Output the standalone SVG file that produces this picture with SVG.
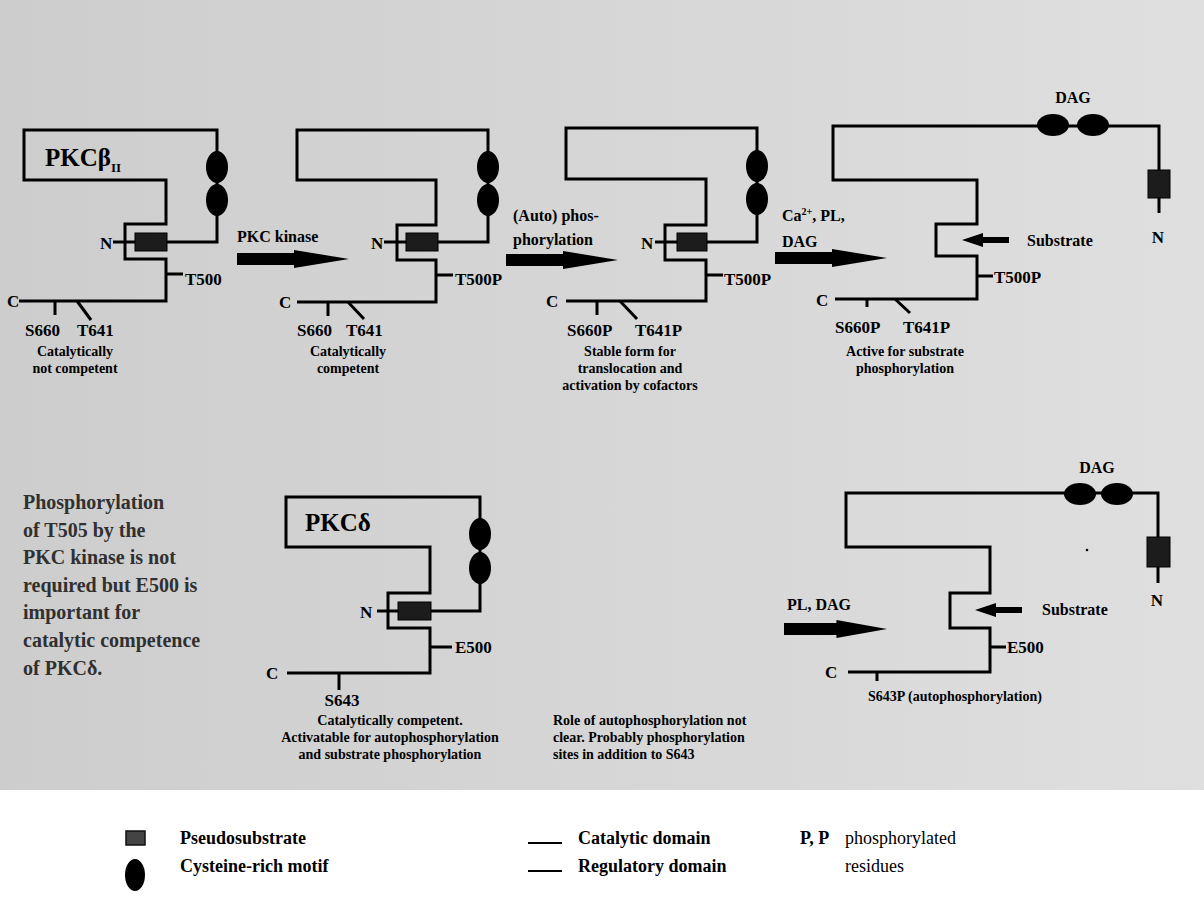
<svg xmlns="http://www.w3.org/2000/svg" width="1204" height="911" viewBox="0 0 1204 911">
<defs>
<style>
.ln{fill:none;stroke:#000;stroke-width:3;stroke-linejoin:miter;stroke-linecap:butt}
.thin{fill:none;stroke:#000;stroke-width:2}
.t{font-family:"Liberation Serif","Times New Roman",serif;font-weight:bold;fill:#000}
.lab{font-size:17px}
.desc{font-size:14px}
.arl{font-size:16px}
.ttl{font-size:25px}
.par{font-size:20px;fill:#303030}
.leg{font-size:18px}
.reg{font-weight:normal}
.ps{fill:#1c1c1c;stroke:#000;stroke-width:1}
.cys{fill:#000}
.arrow{fill:#000}
</style>
<linearGradient id="bg" x1="0" y1="0" x2="1" y2="0">
<stop offset="0" stop-color="#cdcdcd"/>
<stop offset="1" stop-color="#dfdfdf"/>
</linearGradient>
<path id="bigArrow" d="M0,-6 H57 V-9 L112,0 L57,9 V6 H0 Z"/>
<path id="subArrow" d="M0,0 L21,-7 V-3 H47 V3 H21 V7 Z"/>
</defs>
<rect x="0" y="0" width="1204" height="911" fill="#fff"/>
<rect x="0" y="0" width="1204" height="790" fill="url(#bg)"/>

<g id="connectors">
<use href="#bigArrow" class="arrow" x="237" y="259"/>
<use href="#bigArrow" class="arrow" x="506" y="260"/>
<use href="#bigArrow" class="arrow" x="775" y="258"/>
<use href="#bigArrow" class="arrow" x="784" y="629" transform="translate(784,629) scale(0.92,1) translate(-784,-629)"/>
<text class="t arl" x="237" y="242">PKC kinase</text>
<text class="t arl" x="513" y="221">(Auto) phos-</text>
<text class="t arl" x="513" y="245">phorylation</text>
<text class="t arl" x="782" y="221">Ca<tspan font-size="10" dy="-6">2+</tspan><tspan dy="6">, PL,</tspan></text>
<text class="t arl" x="782" y="247">DAG</text>
<text class="t arl" x="787" y="610">PL, DAG</text>
</g>

<g id="pkc-beta-inactive">
<path class="ln" d="M113,242 H135"/>
<rect class="ps" x="135" y="233" width="32" height="18"/>
<path class="ln" d="M167,242 H217 V130 H24 V180 H166 V224 H125 V259 H166 V301 H19"/>
<ellipse class="cys" cx="217" cy="167" rx="11" ry="16"/>
<ellipse class="cys" cx="217" cy="200" rx="11" ry="16"/>
<path class="ln" d="M166,274 H183 M55,301 V315 M77,301 L91,320"/>
<text class="t ttl" x="45" y="166">PKCβ<tspan font-size="13" dy="6">II</tspan></text>
<text class="t lab" x="100" y="249">N</text>
<text class="t lab" x="7" y="307">C</text>
<text class="t lab" x="185" y="285">T500</text>
<text class="t lab" x="25" y="336">S660</text>
<text class="t lab" x="77" y="336">T641</text>
<text class="t desc" x="75" y="356" text-anchor="middle">Catalytically</text>
<text class="t desc" x="75" y="373" text-anchor="middle">not competent</text>
</g>

<g id="pkc-beta-competent">
<path class="ln" d="M384,242 H406"/>
<rect class="ps" x="406" y="233" width="32" height="18"/>
<path class="ln" d="M438,242 H488 V130 H297 V180 H436 V225 H397 V260 H436 V302 H297"/>
<ellipse class="cys" cx="488" cy="167" rx="11" ry="16"/>
<ellipse class="cys" cx="488" cy="200" rx="11" ry="16"/>
<path class="ln" d="M436,275 H453 M328,302 V316 M348,302 L364,319"/>
<text class="t lab" x="371" y="249">N</text>
<text class="t lab" x="279" y="308">C</text>
<text class="t lab" x="455" y="285">T500P</text>
<text class="t lab" x="297" y="336">S660</text>
<text class="t lab" x="346" y="336">T641</text>
<text class="t desc" x="348" y="356" text-anchor="middle">Catalytically</text>
<text class="t desc" x="348" y="373" text-anchor="middle">competent</text>
</g>

<g id="pkc-beta-stable">
<path class="ln" d="M655,242 H677"/>
<rect class="ps" x="677" y="233" width="30" height="18"/>
<path class="ln" d="M707,242 H757 V128 H566 V179 H706 V225 H665 V260 H706 V301 H566"/>
<ellipse class="cys" cx="757" cy="166" rx="11" ry="16"/>
<ellipse class="cys" cx="757" cy="199" rx="11" ry="16"/>
<path class="ln" d="M706,275 H723 M597,301 V315 M620,301 L637,319"/>
<text class="t lab" x="641" y="249">N</text>
<text class="t lab" x="546" y="307">C</text>
<text class="t lab" x="724" y="285">T500P</text>
<text class="t lab" x="567" y="336">S660P</text>
<text class="t lab" x="635" y="336">T641P</text>
<text class="t desc" x="630" y="356" text-anchor="middle">Stable form for</text>
<text class="t desc" x="630" y="373" text-anchor="middle">translocation and</text>
<text class="t desc" x="630" y="390" text-anchor="middle">activation by cofactors</text>
</g>

<g id="pkc-beta-active">
<path class="ln" d="M1159,213 V126 H833 V180 H977 V224 H936 V256 H977 V299 H835"/>
<ellipse class="cys" cx="1053" cy="125" rx="16" ry="11"/>
<ellipse class="cys" cx="1093" cy="125" rx="16" ry="11"/>
<rect class="ps" x="1148" y="170" width="22" height="28"/>
<path class="ln" d="M977,276 H993 M867,299 V307 M895,299 L910,313"/>
<use href="#subArrow" class="arrow" x="962" y="240"/>
<text class="t arl" x="1073" y="103" text-anchor="middle">DAG</text>
<text class="t lab" x="1158" y="243" text-anchor="middle">N</text>
<text class="t lab" x="816" y="306">C</text>
<text class="t arl" x="1027" y="246">Substrate</text>
<text class="t lab" x="994" y="283">T500P</text>
<text class="t lab" x="835" y="333">S660P</text>
<text class="t lab" x="903" y="333">T641P</text>
<text class="t desc" x="905" y="356" text-anchor="middle">Active for substrate</text>
<text class="t desc" x="905" y="373" text-anchor="middle">phosphorylation</text>
</g>

<g id="note">
<text class="t par" x="23" y="509">Phosphorylation</text>
<text class="t par" x="23" y="537">of T505 by the</text>
<text class="t par" x="23" y="564">PKC kinase is not</text>
<text class="t par" x="23" y="592">required but E500 is</text>
<text class="t par" x="23" y="619">important for</text>
<text class="t par" x="23" y="647">catalytic competence</text>
<text class="t par" x="23" y="675">of PKCδ.</text>
</g>

<g id="pkc-delta">
<path class="ln" d="M377,611 H398"/>
<rect class="ps" x="398" y="602" width="33" height="18"/>
<path class="ln" d="M431,611 H480 V497 H286 V547 H430 V593 H388 V628 H430 V673 H287"/>
<ellipse class="cys" cx="480" cy="534" rx="11" ry="16"/>
<ellipse class="cys" cx="480" cy="568" rx="11" ry="16"/>
<path class="ln" d="M430,647 H452 M339,673 V690"/>
<text class="t ttl" x="305" y="531">PKCδ</text>
<text class="t lab" x="360" y="618">N</text>
<text class="t lab" x="266" y="679">C</text>
<text class="t lab" x="455" y="653">E500</text>
<text class="t lab" x="342" y="706" text-anchor="middle">S643</text>
<text class="t desc" x="390" y="725" text-anchor="middle">Catalytically competent.</text>
<text class="t desc" x="390" y="742" text-anchor="middle">Activatable for autophosphorylation</text>
<text class="t desc" x="390" y="759" text-anchor="middle">and substrate phosphorylation</text>
</g>

<g id="autophos-note">
<text class="t desc" x="553" y="725">Role of autophosphorylation not</text>
<text class="t desc" x="553" y="742">clear. Probably phosphorylation</text>
<text class="t desc" x="553" y="759">sites in addition to S643</text>
</g>

<g id="pkc-delta-active">
<path class="ln" d="M1158,583 V493 H846 V547 H990 V593 H950 V628 H990 V672 H848"/>
<ellipse class="cys" cx="1080" cy="494" rx="16" ry="11"/>
<ellipse class="cys" cx="1117" cy="494" rx="16" ry="11"/>
<rect class="ps" x="1147" y="537" width="23" height="30"/>
<circle cx="1087" cy="550" r="1.3" fill="#000"/>
<path class="ln" d="M990,647 H1006 M877,672 V681"/>
<use href="#subArrow" class="arrow" x="975" y="610"/>
<text class="t arl" x="1097" y="473" text-anchor="middle">DAG</text>
<text class="t lab" x="1157" y="606" text-anchor="middle">N</text>
<text class="t lab" x="825" y="678">C</text>
<text class="t arl" x="1042" y="615">Substrate</text>
<text class="t lab" x="1007" y="653">E500</text>
<text class="t desc" x="868" y="701">S643P (autophosphorylation)</text>
</g>

<g id="legend">
<rect x="126" y="831" width="19" height="14" fill="#444" stroke="#111" stroke-width="1.5"/>
<ellipse class="cys" cx="135" cy="875" rx="10" ry="16"/>
<text class="t leg" x="180" y="844" fill="#333">Pseudosubstrate</text>
<text class="t leg" x="180" y="872">Cysteine-rich motif</text>
<path class="thin" d="M528,843 H562 M528,871 H562"/>
<text class="t leg" x="578" y="844">Catalytic domain</text>
<text class="t leg" x="578" y="872">Regulatory domain</text>
<text class="t leg" x="800" y="844">P, P</text>
<text class="t leg reg" x="845" y="844">phosphorylated</text>
<text class="t leg reg" x="845" y="872">residues</text>
</g>
</svg>
